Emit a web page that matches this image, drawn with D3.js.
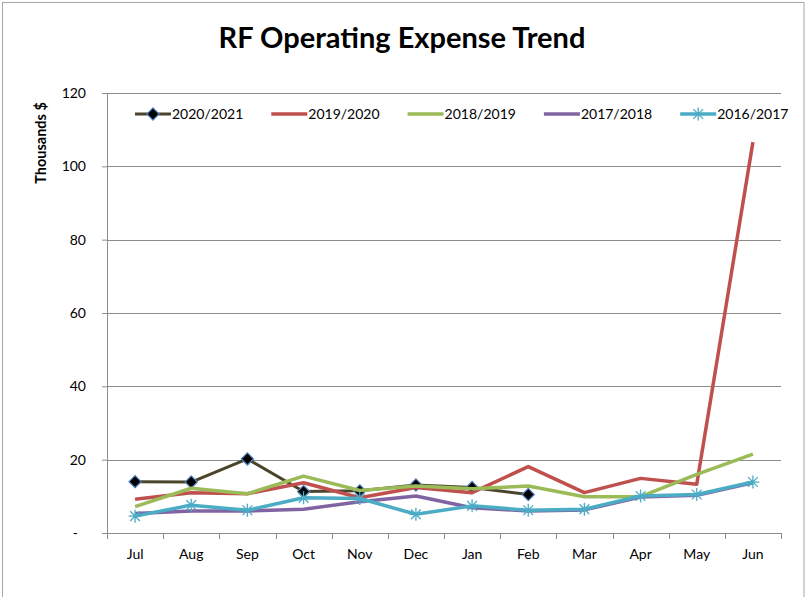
<!DOCTYPE html>
<html>
<head>
<meta charset="utf-8">
<script src="https://cdn.jsdelivr.net/npm/d3@7"></script>
<style>
  body { margin: 0; background: #fff; }
  text { font-family: Lato, "Open Sans", sans-serif; fill: #000; }
</style>
</head>
<body>
<svg id="chart" width="805" height="597"></svg>
<script>
// ---- data ----
const months = ["Jul", "Aug", "Sep", "Oct", "Nov", "Dec", "Jan", "Feb", "Mar", "Apr", "May", "Jun"];
const seriesNames = ["2020/2021", "2019/2020", "2018/2019", "2017/2018", "2016/2017"];
const fy2021 = [14.0, 13.9, 20.2, 11.3, 11.5, 13.1, 12.4, 10.5];
const fy2020 = [9.2, 11.0, 10.7, 13.7, 9.6, 12.4, 11.0, 18.1, 11.0, 14.9, 13.3, 106.6];
const fy2019 = [7.2, 12.2, 10.7, 15.5, 11.6, 12.8, 12.1, 12.8, 9.9, 9.9, 16.0, 21.5];
const fy2018 = [5.3, 6.0, 6.0, 6.5, 8.5, 10.1, 6.9, 6.0, 6.3, 9.8, 10.3, 13.7];
const fy2017 = [4.6, 7.6, 6.2, 9.6, 9.4, 5.1, 7.4, 6.2, 6.5, 10.1, 10.5, 13.9];
const yTicks = [0, 20, 40, 60, 80, 100, 120];

const seriesValues = [fy2021, fy2020, fy2019, fy2018, fy2017];
const colors = ["#4a452a", "#c0504d", "#9bbb59", "#8064a2", "#4bacc6"];
const markers = ["diamond", "none", "none", "none", "star"];

const svg = d3.select("#chart");
const width = +svg.attr("width");
const height = +svg.attr("height");

// outer frame
svg.append("rect")
  .attr("x", 2.5).attr("y", 2.5)
  .attr("width", width - 3.5).attr("height", height - 2)
  .attr("fill", "none").attr("stroke", "#a6a6a6").attr("stroke-width", 1);

const margin = { top: 93, right: 24, bottom: 64, left: 107 };
const innerWidth = width - margin.left - margin.right;
const innerHeight = height - margin.top - margin.bottom;

const g = svg.append("g").attr("transform", `translate(${margin.left},${margin.top})`);

const xScale = d3.scaleBand().domain(months).range([0, innerWidth]).padding(0);
const yScale = d3.scaleLinear().domain([0, 120]).range([innerHeight, 0]);

// title
svg.append("text")
  .attr("x", 402).attr("y", 48)
  .attr("text-anchor", "middle")
  .style("font-size", "29px").style("font-weight", "bold")
  .text("RF Operating Expense Trend");

// y axis label
svg.append("text")
  .attr("transform", "translate(46,143) rotate(-90)")
  .attr("text-anchor", "middle")
  .style("font-size", "14.5px").style("font-weight", "bold")
  .text("Thousands $");

// gridlines
g.append("g").selectAll("line").data(yTicks.filter(d => d > 0)).enter().append("line")
  .attr("x1", 0).attr("x2", innerWidth)
  .attr("y1", d => Math.round(yScale(d)) + 0.5).attr("y2", d => Math.round(yScale(d)) + 0.5)
  .attr("stroke", "#8c8c8c").attr("stroke-width", 1);

// y axis
const yAxis = d3.axisLeft(yScale)
  .tickValues(yTicks)
  .tickSize(5)
  .tickPadding(16)
  .tickFormat(d => d === 0 ? "-" : d);
const yAxisG = g.append("g").call(yAxis);
yAxisG.select(".domain").attr("stroke", "#8c8c8c").attr("d", `M-5,0.5H0.5V${innerHeight}`);
yAxisG.selectAll(".tick line").attr("stroke", "#8c8c8c");
yAxisG.selectAll(".tick text").style("font-size", "14px").style("font-family", "Lato, sans-serif").attr("fill", "#000");
yAxisG.selectAll(".tick").filter(d => d === 0).select("text").attr("dx", -8);

// x axis: labels at band centers, ticks at band edges
const xAxis = d3.axisBottom(xScale).tickSize(0).tickPadding(16);
const xAxisG = g.append("g").attr("transform", `translate(0,${innerHeight})`).call(xAxis);
xAxisG.select(".domain").attr("stroke", "#8c8c8c").attr("d", `M0,0.5H${innerWidth}`);
xAxisG.selectAll(".tick text").style("font-size", "14px").style("font-family", "Lato, sans-serif").attr("fill", "#000");
const edges = months.map(m => xScale(m)).concat([innerWidth]);
xAxisG.append("g").selectAll("line").data(edges).enter().append("line")
  .attr("x1", d => Math.round(d) + 0.5).attr("x2", d => Math.round(d) + 0.5)
  .attr("y1", 0).attr("y2", 6)
  .attr("stroke", "#8c8c8c");

// lines
const xPos = (d, i) => xScale(months[i]) + xScale.bandwidth() / 2;
const line = d3.line().x((d, i) => xPos(d, i)).y(d => yScale(d));

const diamond = d3.symbol().type(d3.symbolDiamond2).size(95);

function drawMarker(sel, type, color, size) {
  if (type === "diamond") {
    sel.append("path").attr("d", diamond())
      .attr("fill", "#000").attr("stroke", "#4f81bd").attr("stroke-width", 1.2);
  } else if (type === "star") {
    const r = size;
    const p = `M${-r},0H${r}M0,${-r}V${r}M${-r*0.75},${-r*0.75}L${r*0.75},${r*0.75}M${-r*0.75},${r*0.75}L${r*0.75},${-r*0.75}`;
    sel.append("path").attr("d", p).attr("fill", "none").attr("stroke", color).attr("stroke-width", 1.3);
  }
}

seriesValues.forEach((vals, s) => {
  g.append("path").datum(vals)
    .attr("d", line)
    .attr("fill", "none")
    .attr("stroke", colors[s])
    .attr("stroke-width", s === 0 ? 3 : 3.5)
    .attr("stroke-linejoin", "round");
  if (markers[s] !== "none") {
    g.append("g").selectAll("g").data(vals).enter().append("g")
      .attr("transform", (d, i) => `translate(${xPos(d, i)},${yScale(d)})`)
      .each(function() { drawMarker(d3.select(this), markers[s], colors[s], 6.5); });
  }
});

// legend
const legend = svg.append("g").attr("transform", "translate(135,114)");
let lx = 0;
seriesNames.forEach((name, s) => {
  const item = legend.append("g").attr("transform", `translate(${lx},0)`);
  item.append("line").attr("x1", 0).attr("x2", 36).attr("y1", 0).attr("y2", 0)
    .attr("stroke", colors[s]).attr("stroke-width", s === 0 ? 3 : 3.5);
  if (markers[s] !== "none") {
    const m = item.append("g").attr("transform", "translate(18,0)");
    drawMarker(m, markers[s], colors[s], 6.5);
  }
  const t = item.append("text").attr("x", 37).attr("y", 5)
    .style("font-size", "14px").text(name);
  lx += 37 + t.node().getComputedTextLength() + 28;
});
</script>
</body>
</html>
